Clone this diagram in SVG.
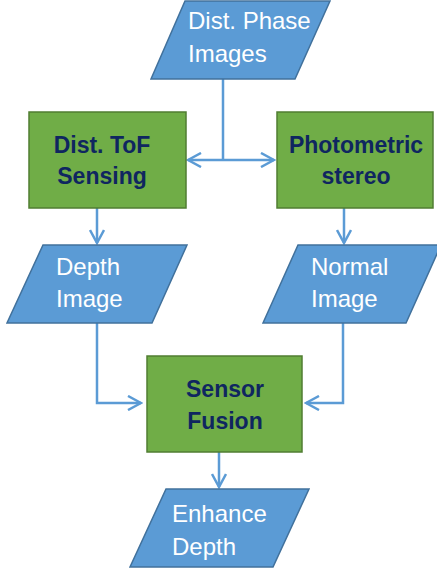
<svg xmlns="http://www.w3.org/2000/svg" width="437" height="573" viewBox="0 0 437 573">
<style>
.io{fill:#5B9BD5;stroke:#41719C;stroke-width:1.5}
.pr{fill:#70AD47;stroke:#507E32;stroke-width:1.5}
.t{font-family:"Liberation Sans",Arial,sans-serif;font-size:24px;fill:#ffffff}
.b{font-family:"Liberation Sans",Arial,sans-serif;font-size:23px;font-weight:bold;fill:#0f2660;text-anchor:middle}
.c{fill:none;stroke:#5B9BD5;stroke-width:2.5}
</style>
<defs>
<marker id="ah" viewBox="0 0 16 16" refX="14" refY="8" markerWidth="16" markerHeight="16" markerUnits="userSpaceOnUse" orient="auto-start-reverse">
<path d="M1,1 L14,8 L1,15" fill="none" stroke="#5B9BD5" stroke-width="2.5"/>
</marker>
</defs>
<rect width="437" height="573" fill="#ffffff"/>
<g id="connectors">
<path class="c" d="M223,79 V160"/>
<path class="c" d="M188,160 H274" marker-start="url(#ah)" marker-end="url(#ah)"/>
<path class="c" d="M97,208 V243" marker-end="url(#ah)"/>
<path class="c" d="M344,208 V243" marker-end="url(#ah)"/>
<path class="c" d="M97,323 V403 H141" marker-end="url(#ah)"/>
<path class="c" d="M343,323 V403 H306" marker-end="url(#ah)"/>
<path class="c" d="M219,452 V487" marker-end="url(#ah)"/>
</g>
<g id="dist-phase-images">
<polygon class="io" points="185,1 330,1 295,79 151,79"/>
<text class="t" x="188" y="29">Dist. Phase</text>
<text class="t" x="188" y="62">Images</text>
</g>
<g id="dist-tof-sensing">
<rect class="pr" x="29" y="112" width="157" height="96"/>
<text class="b" x="102" y="153">Dist. ToF</text>
<text class="b" x="102" y="184">Sensing</text>
</g>
<g id="photometric-stereo">
<rect class="pr" x="277" y="112" width="156" height="96"/>
<text class="b" x="356" y="153">Photometric</text>
<text class="b" x="356" y="184">stereo</text>
</g>
<g id="depth-image">
<polygon class="io" points="43,245 187,245 152,323 7,323"/>
<text class="t" x="56" y="275">Depth</text>
<text class="t" x="56" y="307">Image</text>
</g>
<g id="normal-image">
<polygon class="io" points="298,245 441,245 406,323 263,323"/>
<text class="t" x="311" y="275">Normal</text>
<text class="t" x="311" y="307">Image</text>
</g>
<g id="sensor-fusion">
<rect class="pr" x="147" y="356" width="155" height="96"/>
<text class="b" x="225" y="397">Sensor</text>
<text class="b" x="225" y="429">Fusion</text>
</g>
<g id="enhance-depth">
<polygon class="io" points="166,489 309,489 273,567 130,567"/>
<text class="t" x="172" y="522">Enhance</text>
<text class="t" x="172" y="555">Depth</text>
</g>
</svg>
